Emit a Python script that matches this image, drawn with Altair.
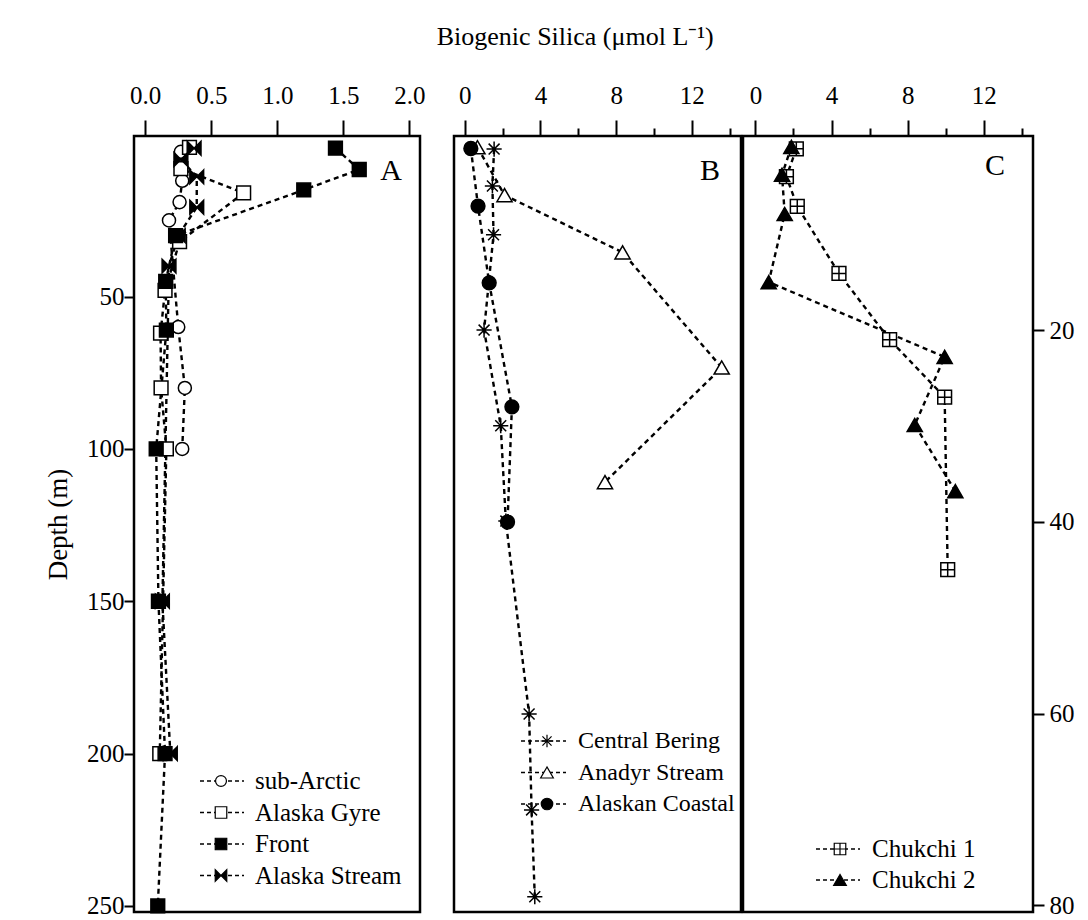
import altair as alt
import pandas as pd

FONT = "Liberation Serif"

# ---------------- data ----------------
# Panel A
subarctic_depth = [2.5, 12, 19, 25, 60, 80, 100]
subarctic_bsi = [0.27, 0.28, 0.26, 0.18, 0.25, 0.30, 0.28]
gyre_depth = [1, 8, 16, 32, 48, 62, 80, 100, 200]
gyre_bsi = [0.335, 0.27, 0.745, 0.26, 0.15, 0.116, 0.12, 0.16, 0.11]
front_depth = [1.3, 8.3, 15, 30, 45, 61, 100, 150, 200, 250]
front_bsi = [1.44, 1.62, 1.20, 0.23, 0.155, 0.16, 0.083, 0.10, 0.15, 0.095]
stream_depth = [1.3, 5, 10.7, 20.7, 30, 40, 150, 200]
stream_bsi = [0.37, 0.27, 0.39, 0.39, 0.25, 0.18, 0.13, 0.19]

# Panel B
bering_depth = [1.6, 13.7, 29.7, 61, 92.4, 123.7, 187, 218.5, 247]
bering_bsi = [1.55, 1.46, 1.52, 1.02, 1.90, 2.17, 3.40, 3.53, 3.70]
anadyr_depth = [1.0, 16.7, 35.5, 73.3, 110.9]
anadyr_bsi = [0.67, 2.1, 8.34, 13.58, 7.41]
coastal_depth = [1.4, 20.3, 45.5, 86.2, 124]
coastal_bsi = [0.32, 0.70, 1.29, 2.49, 2.26]

# Panel C
chukchi1_depth = [1.1, 4.0, 7.1, 14.1, 21.0, 27.0, 45.0]
chukchi1_bsi = [2.15, 1.63, 2.2, 4.39, 7.05, 9.94, 10.1]
chukchi2_depth = [0.9, 3.8, 7.9, 15.0, 22.8, 29.9, 36.8]
chukchi2_bsi = [1.89, 1.40, 1.54, 0.70, 9.94, 8.37, 10.5]

# tick labels
a_ticks = [0, 0.5, 1.0, 1.5, 2.0]
bc_ticks = [0, 2, 4, 6, 8, 10, 12, 14]
depth_ticks_ab = [50, 100, 150, 200, 250]
depth_ticks_c = [20, 40, 60, 80]

# ---------------- symbols ----------------
ASTER = "M-1,0L1,0M0,-1L0,1M-0.72,-0.72L0.72,0.72M-0.72,0.72L0.72,-0.72"
BOWTIE = "M-1,-1L0,0L-1,1ZM1,-1L0,0L1,1Z"
GRIDSQ = "M-1,-1L1,-1L1,1L-1,1ZM0,-1L0,1M-1,0L1,0"

series_a = [
    dict(name="sub-Arctic", depth=subarctic_depth, bsi=subarctic_bsi, shape="circle", fill="white", size=170),
    dict(name="Alaska Gyre", depth=gyre_depth, bsi=gyre_bsi, shape="square", fill="white", size=190),
    dict(name="Front", depth=front_depth, bsi=front_bsi, shape="square", fill="black", size=190),
    dict(name="Alaska Stream", depth=stream_depth, bsi=stream_bsi, shape=BOWTIE, fill="black", size=190),
]
series_b = [
    dict(name="Central Bering", depth=bering_depth, bsi=bering_bsi, shape=ASTER, fill="white", size=230),
    dict(name="Anadyr Stream", depth=anadyr_depth, bsi=anadyr_bsi, shape="triangle-up", fill="white", size=230),
    dict(name="Alaskan Coastal", depth=coastal_depth, bsi=coastal_bsi, shape="circle", fill="black", size=190),
]
series_c = [
    dict(name="Chukchi 1", depth=chukchi1_depth, bsi=chukchi1_bsi, shape=GRIDSQ, fill="white", size=190),
    dict(name="Chukchi 2", depth=chukchi2_depth, bsi=chukchi2_bsi, shape="triangle-up", fill="black", size=230),
]

PLOT_H = 776


def panel(series, xdomain, xaxis, ydomain, yaxis, width, letter, letter_xy, leg, leg_font):
    layers = []
    xs = alt.Scale(domain=xdomain, nice=False, zero=False)
    ys = alt.Scale(domain=ydomain, reverse=True, nice=False, zero=False)
    for s in series:
        df = pd.DataFrame({"depth": s["depth"], "bsi": s["bsi"]})
        layers.append(
            alt.Chart(df).mark_line(color="black", strokeWidth=2.4, strokeDash=[5, 4]).encode(
                x=alt.X("bsi:Q", scale=xs, axis=xaxis),
                y=alt.Y("depth:Q", scale=ys, axis=yaxis),
                order=alt.Order("depth:Q"),
            )
        )
    for s in series:
        df = pd.DataFrame({"depth": s["depth"], "bsi": s["bsi"]})
        layers.append(
            alt.Chart(df).mark_point(
                shape=s["shape"], filled=True, fill=s["fill"], stroke="black",
                strokeWidth=1.5, size=s["size"], opacity=1,
            ).encode(
                x=alt.X("bsi:Q", scale=xs, axis=xaxis),
                y=alt.Y("depth:Q", scale=ys, axis=yaxis),
            )
        )
    # panel letter
    layers.append(
        alt.Chart(pd.DataFrame({"t": [letter]})).mark_text(
            font=FONT, fontSize=30, color="black", align="center", baseline="middle"
        ).encode(x=alt.value(letter_xy[0]), y=alt.value(letter_xy[1]), text="t:N")
    )
    # legend
    x0, x1, xs_sym, xt, y0, dy = leg
    for i, s in enumerate(series):
        yy = y0 + i * dy
        one = pd.DataFrame({"t": [s["name"]]})
        layers.append(
            alt.Chart(one).mark_rule(color="black", strokeWidth=1.4, strokeDash=[4, 3]).encode(
                x=alt.value(x0), x2=alt.value(x1), y=alt.value(yy)
            )
        )
        layers.append(
            alt.Chart(one).mark_point(
                shape=s["shape"], filled=True, fill=s["fill"], stroke="black",
                strokeWidth=1.2, size=s["size"] * 0.7, opacity=1,
            ).encode(x=alt.value(xs_sym), y=alt.value(yy))
        )
        layers.append(
            alt.Chart(one).mark_text(
                font=FONT, fontSize=leg_font, color="black", align="left", baseline="middle"
            ).encode(x=alt.value(xt), y=alt.value(yy), text="t:N")
        )
    return alt.layer(*layers).properties(width=width, height=PLOT_H)


axis_a_x = alt.Axis(orient="top", values=a_ticks, format=".1f", title=None, tickSize=16,
                    labelPadding=12, labelFontSize=25)
axis_bc_x = alt.Axis(
    orient="top", values=bc_ticks, title=None,
    labelExpr="datum.value % 4 === 0 ? datum.label : ''",
    tickSize={"condition": {"test": "datum.value % 4 === 0", "value": 16}, "value": 8},
    labelPadding=12, labelFontSize=25,
)
axis_a_y = alt.Axis(orient="left", values=depth_ticks_ab, title="Depth (m)", tickSize=10,
                    labelPadding=0, labelFontSize=25, titleFontSize=27, titleFontWeight="normal",
                    titlePadding=14)
axis_c_y = alt.Axis(orient="right", values=depth_ticks_c, title=None, tickSize=11,
                    labelPadding=5, labelFontSize=25)

A = panel(series_a, [-0.085, 2.08], axis_a_x, [-2.7, 252], axis_a_y, 286, "A", (257, 35),
          (66, 110, 87, 121, 645, 31.5), 25)
B = panel(series_b, [-0.57, 14.6], axis_bc_x, [-2.7, 252], None, 287, "B", (256, 35),
          (67, 112, 93, 124, 605, 31.5), 24)
C = panel(series_c, [-0.65, 14.58], axis_bc_x, [-0.24, 80.7], axis_c_y, 290, "C", (252, 30),
          (73, 117, 97, 129, 713, 31), 25)

BC = alt.hconcat(B, C, spacing=-3).resolve_scale(x="independent", y="independent")
chart = (
    alt.hconcat(A, BC, spacing=25)
    .resolve_scale(x="independent", y="independent")
    .properties(
        title=alt.TitleParams(
            "Biogenic Silica (μmol L⁻¹)", font=FONT, fontSize=26, fontWeight="normal",
            color="black", anchor="middle", offset=32, dx=16,
        ),
        padding={"left": 43, "top": 23, "right": 5, "bottom": 5},
        background="white",
    )
    .configure_view(stroke="black", strokeWidth=2.5)
    .configure_axis(
        labelFont=FONT, titleFont=FONT, labelColor="black", titleColor="black",
        tickColor="black", tickWidth=2, domain=False, grid=False,
    )
)

chart.save("out.html", embed_options={"renderer": "svg", "actions": False})
